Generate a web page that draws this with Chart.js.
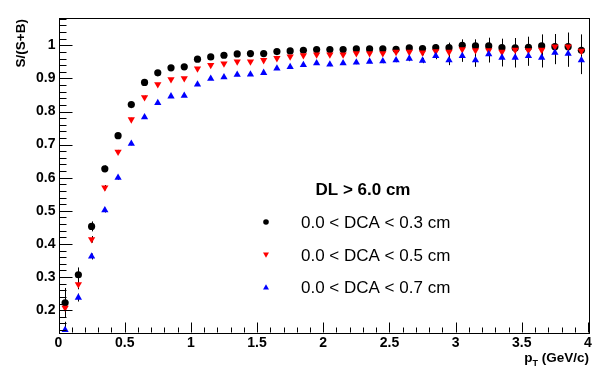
<!DOCTYPE html>
<html><head><meta charset="utf-8">
<script src="https://cdn.jsdelivr.net/npm/chart.js@4"></script>
<style>html,body{margin:0;padding:0;background:#fff}canvas{display:block}</style>
</head><body>
<canvas id="c" width="600" height="375"></canvas>
<script>
// ---- data ----
const pT = [0.05,0.15,0.25,0.35,0.45,0.55,0.65,0.75,0.85,0.95,
            1.05,1.15,1.25,1.35,1.45,1.55,1.65,1.75,1.85,1.95,
            2.05,2.15,2.25,2.35,2.45,2.55,2.65,2.75,2.85,2.95,
            3.05,3.15,3.25,3.35,3.45,3.55,3.65,3.75,3.85,3.95];

const purityDCA03 = [0.222,0.307,0.453,0.627,0.727,0.821,0.888,0.917,0.932,0.935,
                     0.958,0.965,0.970,0.974,0.975,0.975,0.981,0.983,0.985,0.987,
                     0.987,0.987,0.989,0.989,0.989,0.988,0.992,0.990,0.993,0.993,
                     1.000,0.998,0.998,0.993,0.992,0.994,0.998,0.996,0.996,0.985];
const errorDCA03 = [0.045,0.022,0.015,0.010,0.006,0.005,0.005,0.004,0.004,0.004,
                    0.004,0.004,0.004,0.004,0.004,0.004,0.004,0.004,0.004,0.004,
                    0.005,0.005,0.005,0.005,0.006,0.006,0.008,0.008,0.010,0.015,
                    0.018,0.020,0.025,0.027,0.030,0.032,0.035,0.038,0.042,0.048];

const purityDCA05 = [0.207,0.278,0.414,0.570,0.678,0.776,0.843,0.882,0.897,0.900,
                     0.930,0.940,0.945,0.951,0.951,0.955,0.961,0.966,0.970,0.972,
                     0.972,0.972,0.976,0.976,0.976,0.980,0.980,0.978,0.982,0.980,
                     0.988,0.985,0.985,0.980,0.986,0.985,0.986,0.996,0.996,0.983];
const errorDCA05 = [0.030,0.015,0.010,0.008,0.006,0.005,0.005,0.004,0.004,0.004,
                    0.004,0.004,0.004,0.004,0.004,0.004,0.004,0.004,0.004,0.004,
                    0.005,0.005,0.005,0.005,0.006,0.006,0.008,0.008,0.010,0.015,
                    0.018,0.020,0.025,0.027,0.030,0.032,0.035,0.038,0.042,0.045];

const purityDCA07 = [0.140,0.238,0.362,0.502,0.600,0.703,0.783,0.826,0.846,0.848,
                     0.882,0.899,0.904,0.911,0.912,0.917,0.930,0.935,0.941,0.946,
                     0.942,0.946,0.948,0.951,0.952,0.955,0.960,0.954,0.968,0.955,
                     0.968,0.955,0.973,0.963,0.963,0.968,0.963,0.978,0.975,0.955];
const errorDCA07 = [0.025,0.012,0.009,0.007,0.006,0.005,0.005,0.004,0.004,0.004,
                    0.004,0.004,0.004,0.004,0.004,0.004,0.004,0.004,0.004,0.004,
                    0.005,0.005,0.005,0.005,0.006,0.006,0.008,0.008,0.010,0.015,
                    0.018,0.020,0.025,0.027,0.030,0.030,0.030,0.035,0.040,0.042];

const seriesLabels = ['0.0 < DCA < 0.3 cm','0.0 < DCA < 0.5 cm','0.0 < DCA < 0.7 cm'];
const legendHeader = 'DL > 6.0 cm';
const xTickValues = [0,0.5,1,1.5,2,2.5,3,3.5,4];
const xTickLabels = ['0','0.5','1','1.5','2','2.5','3','3.5','4'];
const yTickValues = [0.2,0.3,0.4,0.5,0.6,0.7,0.8,0.9,1.0];
const yTickLabels = ['0.2','0.3','0.4','0.5','0.6','0.7','0.8','0.9','1'];
const xTitleMain = 'p', xTitleSub = 'T', xTitleRest = ' (GeV/c)';
const yTitle = 'S/(S+B)';

// ---- chart ----
const FONT = '"Liberation Sans", Arial, Helvetica, sans-serif';
const errs = [errorDCA03, errorDCA05, errorDCA07];

function pts(vals){ return pT.map((x,i)=>({x:x, y:vals[i]})); }

const rootStyle = {
  id:'rootStyle',
  beforeDatasetsDraw(chart){
    const ctx = chart.ctx, xs = chart.scales.x, ys = chart.scales.y, a = chart.chartArea;
    ctx.save();
    ctx.beginPath(); ctx.rect(a.left, a.top, a.right-a.left, a.bottom-a.top); ctx.clip();
    ctx.strokeStyle = '#000'; ctx.lineWidth = 1;
    chart.data.datasets.forEach((ds, di)=>{
      const e = errs[ds.errIndex];
      ds.data.forEach((p,i)=>{
        const px = Math.round(xs.getPixelForValue(p.x)) + 0.5;
        const y1 = ys.getPixelForValue(p.y + e[i]);
        const y2 = ys.getPixelForValue(p.y - e[i]);
        ctx.beginPath(); ctx.moveTo(px, y1); ctx.lineTo(px, y2); ctx.stroke();
      });
    });
    ctx.restore();
  },
  afterDraw(chart){
    const ctx = chart.ctx, xs = chart.scales.x, ys = chart.scales.y, a = chart.chartArea;
    ctx.save();
    ctx.strokeStyle = '#000'; ctx.lineWidth = 1;
    // frame
    ctx.strokeRect(Math.round(a.left)+0.5, Math.round(a.top)+0.5,
                   Math.round(a.right-a.left), Math.round(a.bottom-a.top));
    // y ticks (inside)
    const L = Math.round(a.left)+0.5;
    for (let k=7; k<=54; k++){
      const v = k*0.02;
      if (v < ys.min || v > ys.max) continue;
      const major = (k % 5 === 0);
      const py = Math.round(ys.getPixelForValue(v)) + 0.5;
      ctx.beginPath(); ctx.moveTo(L, py); ctx.lineTo(L + (major?13:7), py); ctx.stroke();
    }
    // x ticks (inside)
    const B = Math.round(a.bottom)+0.5;
    for (let k=0; k<=40; k++){
      const v = k*0.1;
      const major = (k % 5 === 0);
      const px = Math.round(xs.getPixelForValue(v)) + 0.5;
      ctx.beginPath(); ctx.moveTo(px, B); ctx.lineTo(px, B - (major?10:5)); ctx.stroke();
    }
    // y title
    ctx.fillStyle = '#000';
    ctx.save();
    ctx.translate(25, Math.round(a.top)+1);
    ctx.rotate(-Math.PI/2);
    ctx.font = 'bold 13.5px ' + FONT;
    ctx.textAlign = 'right'; ctx.textBaseline = 'alphabetic';
    ctx.fillText(yTitle, 0, 0);
    ctx.restore();
    // x title with subscript
    const fMain = 'bold 13.5px ' + FONT, fSub = 'bold 9px ' + FONT;
    ctx.font = fMain; const wP = ctx.measureText(xTitleMain).width, wR = ctx.measureText(xTitleRest).width;
    ctx.font = fSub; const wT = ctx.measureText(xTitleSub).width;
    let x0 = a.right + 1 - (wP + wT + wR);
    const base = 362;
    ctx.textAlign = 'left'; ctx.textBaseline = 'alphabetic';
    ctx.font = fMain; ctx.fillText(xTitleMain, x0, base); x0 += wP;
    ctx.font = fSub; ctx.fillText(xTitleSub, x0, base + 4); x0 += wT;
    ctx.font = fMain; ctx.fillText(xTitleRest, x0, base);
    // legend
    ctx.font = 'bold 17px ' + FONT; ctx.textAlign = 'center'; ctx.textBaseline = 'middle';
    ctx.fillText(legendHeader, 363, 190);
    const rows = [222, 255, 287];
    ctx.font = '17px ' + FONT; ctx.textAlign = 'left';
    chart.data.datasets.slice().sort((p,q)=>p.errIndex-q.errIndex).forEach((ds, i)=>{
      const y = rows[i];
      ctx.fillStyle = ds.backgroundColor;
      ctx.beginPath();
      if (i === 0) { ctx.arc(266, y, 2.8, 0, Math.PI*2); }
      else if (i === 1) { ctx.moveTo(263, y-2.5); ctx.lineTo(269, y-2.5); ctx.lineTo(266, y+2.8); ctx.closePath(); }
      else { ctx.moveTo(263, y+2.5); ctx.lineTo(269, y+2.5); ctx.lineTo(266, y-2.8); ctx.closePath(); }
      ctx.fill();
      ctx.fillStyle = '#000';
      ctx.fillText(ds.label, 301, y + 1);
    });
    ctx.restore();
  }
};

new Chart(document.getElementById('c'), {
  type: 'scatter',
  data: { datasets: [
    { label: seriesLabels[0], data: pts(purityDCA03), errIndex: 0, order: 3,
      pointStyle: 'circle', pointRadius: 3.6, pointHoverRadius: 3.6,
      backgroundColor: '#000000', borderColor: '#000000', borderWidth: 0 },
    { label: seriesLabels[1], data: pts(purityDCA05), errIndex: 1, order: 2,
      pointStyle: 'triangle', rotation: 180, pointRadius: 4.2, pointHoverRadius: 4.2,
      backgroundColor: '#ff0000', borderColor: '#ff0000', borderWidth: 0 },
    { label: seriesLabels[2], data: pts(purityDCA07), errIndex: 2, order: 1,
      pointStyle: 'triangle', pointRadius: 4.2, pointHoverRadius: 4.2,
      backgroundColor: '#0000ff', borderColor: '#0000ff', borderWidth: 0 }
  ]},
  options: {
    responsive: false, animation: false, devicePixelRatio: 1,
    layout: { padding: { left: 0, right: 12, top: 17.5, bottom: 0 } },
    plugins: { legend: { display: false }, tooltip: { enabled: false } },
    events: [],
    scales: {
      x: { type: 'linear', min: 0, max: 4,
           grid: { display: false, drawTicks: false }, border: { display: false },
           afterBuildTicks: s => { s.ticks = xTickValues.map(v=>({value:v})); },
           afterFit: s => { s.height = 43; },
           ticks: { padding: 3, color: '#000', maxRotation: 0, autoSkip: false,
                    font: { family: FONT, size: 14, weight: 'bold' },
                    callback: (v) => { const i = xTickValues.indexOf(v); return i>=0 ? xTickLabels[i] : ''; } } },
      y: { type: 'linear', min: 0.134, max: 1.084,
           grid: { display: false, drawTicks: false }, border: { display: false },
           afterBuildTicks: s => { s.ticks = yTickValues.map(v=>({value:v})); },
           afterFit: s => { s.width = 58.5; },
           ticks: { padding: 3, color: '#000', autoSkip: false,
                    font: { family: FONT, size: 14, weight: 'bold' },
                    callback: (v) => { const i = yTickValues.findIndex(t=>Math.abs(t-v)<1e-9); return i>=0 ? yTickLabels[i] : ''; } } }
    }
  },
  plugins: [rootStyle]
});
</script>
</body></html>
